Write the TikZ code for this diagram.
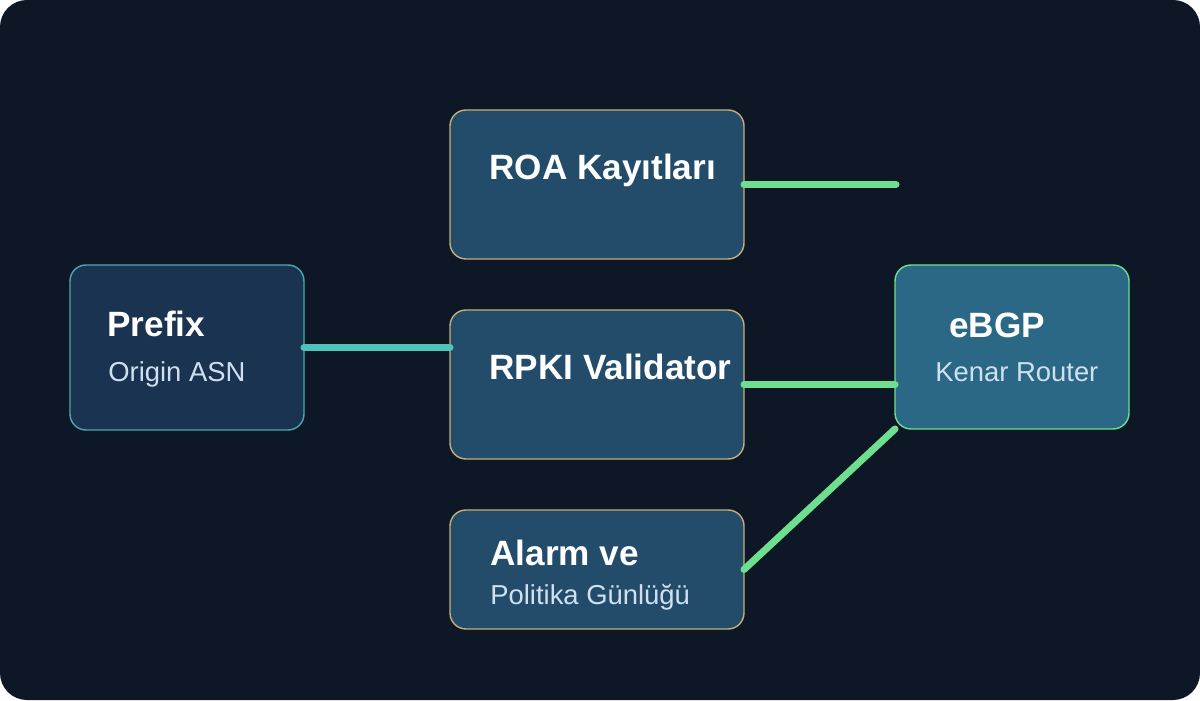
\documentclass[tikz,border=0pt]{standalone}
\usepackage{fontspec}
\setmainfont{Liberation Sans}
\usepackage{tikz}
\usetikzlibrary{positioning}
\definecolor{rpbg}{HTML}{0D1726}
\definecolor{rpdeep}{HTML}{1A3350}
\definecolor{rpmid}{HTML}{234C6A}
\definecolor{rpedge}{HTML}{2B6886}
\definecolor{rpteal}{HTML}{4EC3BA}
\definecolor{rptealbd}{HTML}{4AA9AE}
\definecolor{rpgold}{HTML}{C4B07A}
\definecolor{rpgreen}{HTML}{6EDF8E}
\definecolor{rpsub}{HTML}{CFE0F2}

\begin{document}
\begin{tikzpicture}[
  box/.style={
    rounded corners=0.32cm,
    line width=0.8pt,
    inner sep=0pt,
    outer sep=0pt
  },
  srcbox/.style={box, draw=rptealbd, fill=rpdeep},
  midbox/.style={box, draw=rpgold, fill=rpmid},
  edgebox/.style={box, draw=rpgreen, fill=rpedge},
  title/.style={
    anchor=base west,
    inner sep=0pt,
    text=white,
    font=\fontsize{20}{23}\selectfont\bfseries
  },
  sub/.style={
    anchor=base west,
    inner sep=0pt,
    text=rpsub,
    font=\fontsize{15.6}{18}\selectfont
  },
  tealln/.style={rpteal, line width=4pt, line cap=round},
  greenln/.style={rpgreen, line width=4pt, line cap=round}
]

\fill[white] (0,0) rectangle (24,14);
\fill[rpbg, rounded corners=0.54cm] (0,0) rectangle (24,14);

% boxes
\node[srcbox, minimum width=4.68cm, minimum height=3.3cm] (prefix) at (3.74,7.05) {};
\node[midbox, minimum width=5.88cm, minimum height=2.98cm] (roa) at (11.94,10.31) {};
\node[midbox, minimum width=5.88cm, minimum height=2.98cm] (rpki) at (11.94,6.31) {};
\node[midbox, minimum width=5.88cm, minimum height=2.38cm] (alarm) at (11.94,2.61) {};
\node[edgebox, minimum width=4.68cm, minimum height=3.28cm] (ebgp) at (20.24,7.06) {};

% labels
\node[title] (prefix-t) at (2.14,7.26) {Prefix};
\node[sub] (prefix-s) at (2.16,6.36) {Origin ASN};
\node[title] (roa-t) at (9.78,10.4) {ROA Kayıtları};
\node[title] (rpki-t) at (9.78,6.4) {RPKI Validator};
\node[title] (alarm-t) at (9.8,2.7) {Alarm ve};
\node[sub] (alarm-s) at (9.8,1.92) {Politika Günlüğü};
\node[title] (ebgp-t) at (18.98,7.24) {eBGP};
\node[sub] (ebgp-s) at (18.7,6.36) {Kenar Router};

\coordinate (roa-end) at (17.92,10.31);

% links
\draw[tealln] (prefix.east) -- (prefix.east -| rpki.west);
\draw[greenln] (roa.east) -- (roa-end);
\draw[greenln] (rpki.east) -- (rpki.east -| ebgp.west);
\draw[greenln] (alarm.east) -- (ebgp.south west);

\end{tikzpicture}
\end{document}
